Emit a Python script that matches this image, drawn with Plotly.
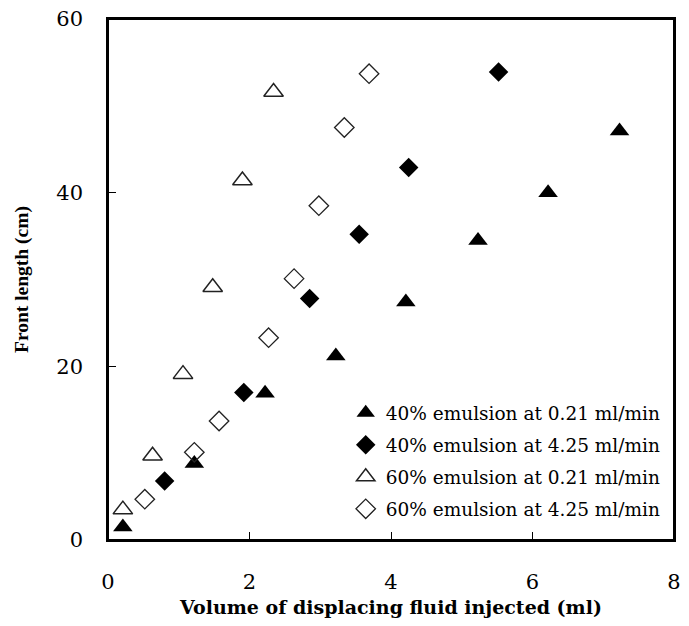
import plotly.graph_objects as go

# 40% emulsion at 0.21 ml/min
x_40_slow = [0.21, 1.22, 2.22, 3.22, 4.21, 5.23, 6.22, 7.23]
y_40_slow = [1.5, 8.8, 16.9, 21.2, 27.4, 34.5, 40.0, 47.1]
# 40% emulsion at 4.25 ml/min
x_40_fast = [0.80, 1.92, 2.85, 3.55, 4.25, 5.52]
y_40_fast = [6.8, 17.0, 27.8, 35.2, 42.9, 53.9]
# 60% emulsion at 0.21 ml/min
x_60_slow = [0.21, 0.63, 1.06, 1.48, 1.90, 2.34]
y_60_slow = [3.5, 9.7, 19.1, 29.1, 41.4, 51.6]
# 60% emulsion at 4.25 ml/min
x_60_fast = [0.52, 1.22, 1.57, 2.27, 2.63, 2.98, 3.34, 3.69]
y_60_fast = [4.7, 10.1, 13.7, 23.3, 30.1, 38.5, 47.5, 53.7]

names = ["40% emulsion at 0.21 ml/min", "40% emulsion at 4.25 ml/min",
         "60% emulsion at 0.21 ml/min", "60% emulsion at 4.25 ml/min"]

WIDE = "DejaVu Serif, Liberation Serif, serif"
NARROW = "Liberation Serif, Times New Roman, serif"

fig = go.Figure()
fig.add_trace(go.Scatter(x=x_40_slow, y=y_40_slow, mode="markers", name=names[0],
                         legendgroup="a",
                         marker=dict(symbol="triangle-up", size=17, color="black",
                                     line=dict(width=0))))
fig.add_trace(go.Scatter(x=x_40_fast, y=y_40_fast, mode="markers", name=names[1],
                         legendgroup="b",
                         marker=dict(symbol="diamond", size=15, color="black",
                                     line=dict(width=0))))
fig.add_trace(go.Scatter(x=x_60_slow, y=y_60_slow, mode="markers", name=names[2],
                         legendgroup="c",
                         marker=dict(symbol="triangle-up-open", size=17, color="#222",
                                     line=dict(width=1.5))))
fig.add_trace(go.Scatter(x=x_60_fast, y=y_60_fast, mode="markers", name=names[3],
                         legendgroup="d",
                         marker=dict(symbol="diamond-open", size=15, color="#222",
                                     line=dict(width=1.3))))

axis_common = dict(showgrid=False, zeroline=False, showline=True, linecolor="black",
                   linewidth=1.5, mirror=True, ticks="inside", ticklen=8,
                   tickcolor="black", automargin=False, ticklabeloverflow="allow",
                   tickfont=dict(family=WIDE, size=21, color="black"))

# the page body has an 8px margin; size the figure so it fits the 689x626 window
fig.update_layout(
    width=673, height=610,
    margin=dict(l=100, r=7, t=11, b=78),
    paper_bgcolor="white", plot_bgcolor="white",
    font=dict(family=WIDE, color="black"),
    xaxis=dict(range=[0, 8], tickvals=[0, 2, 4, 6, 8], ticklabelstandoff=22,
               title=dict(text="<b>Volume of displacing fluid injected (ml)</b>",
                          font=dict(family=WIDE, size=19), standoff=11),
               **axis_common),
    yaxis=dict(range=[0, 60], tickvals=[0, 20, 40, 60], ticklabelstandoff=19,
               title=dict(text="<b>Front length (cm)</b>",
                          font=dict(family=NARROW, size=19.5), standoff=22),
               **axis_common),
    legend=dict(x=0.42, y=0.28, xanchor="left", yanchor="top",
                bgcolor="rgba(0,0,0,0)", font=dict(family=WIDE, size=18.5),
                itemwidth=30, tracegroupgap=5),
    shapes=[dict(type="rect", xref="paper", yref="paper", x0=0, x1=1, y0=0, y1=1,
                 line=dict(color="black", width=2), layer="above")],
    showlegend=True,
)

fig.write_html("out.html")
